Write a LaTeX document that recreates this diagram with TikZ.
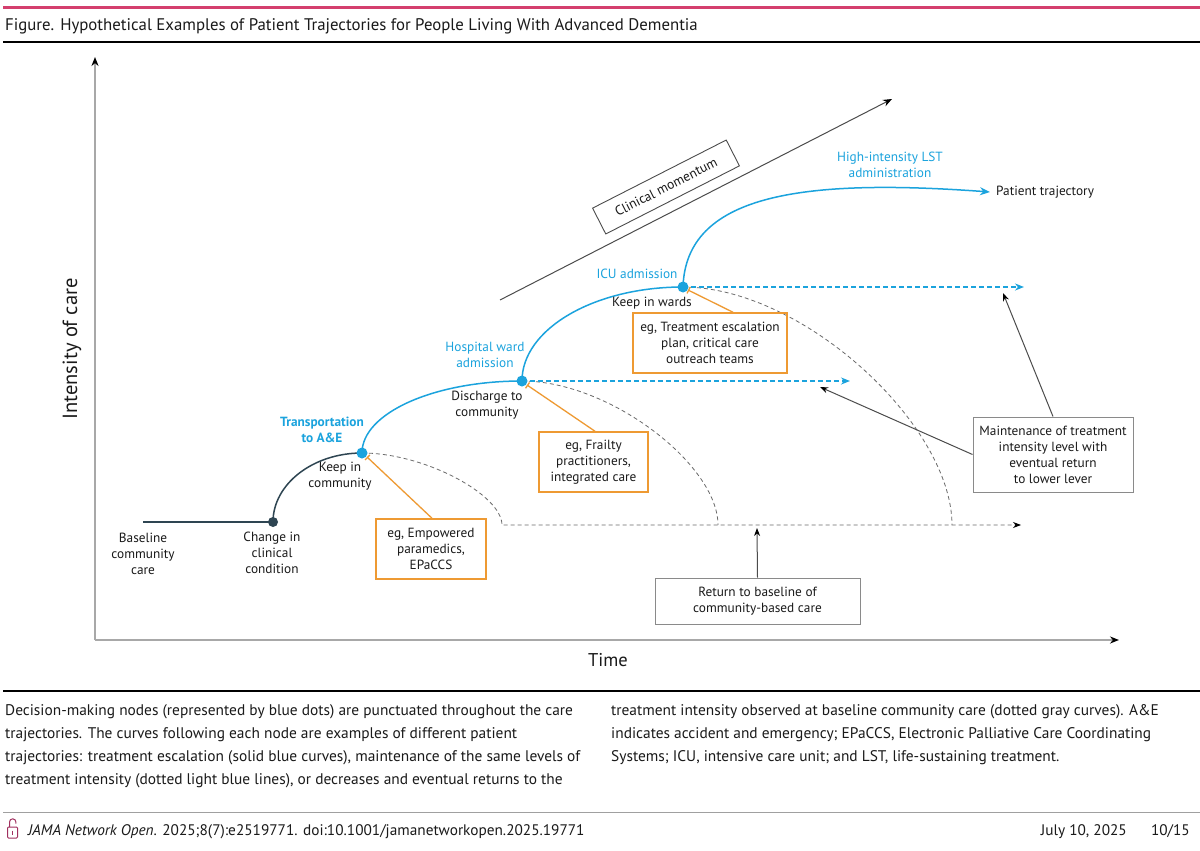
\documentclass[tikz,border=0pt]{standalone}
\usepackage{fontspec}
\setmainfont{PT Sans}
\usetikzlibrary{arrows.meta,calc}
\definecolor{jpink}{HTML}{D43F6E}
\definecolor{jblue}{HTML}{1BA3DD}
\definecolor{jdark}{HTML}{2E4552}
\definecolor{jorange}{HTML}{EE9A33}
\definecolor{gbord}{HTML}{8A8A8A}
\definecolor{gdash}{HTML}{6A6A6A}
\definecolor{txt}{HTML}{1A1A1A}
\definecolor{axisc}{HTML}{A8A8A8}
\definecolor{lockc}{HTML}{A0305F}
\definecolor{footl}{HTML}{A0A0A0}
\begin{document}
\begin{tikzpicture}[x=1pt,y=-1pt,
  lbl/.style={font=\fontsize{13.3}{16}\selectfont, text=txt, align=center, inner sep=0pt},
  blbl/.style={lbl, text=jblue},
  obox/.style={draw=jorange, line width=1.5pt, align=center, inner sep=0pt,
     font=\fontsize{13.3}{16}\selectfont, text=txt},
  gbox/.style={draw=gbord, line width=1pt, align=center, inner sep=0pt,
     font=\fontsize{13.3}{16}\selectfont, text=txt},
  bluecurve/.style={draw=jblue, line width=1.5pt},
  bluedash/.style={draw=jblue, line width=1.6pt, dash pattern=on 5pt off 3pt,
     -{Stealth[length=9pt,width=7pt,color=jblue]}},
  graydash/.style={draw=gdash, line width=0.8pt, dash pattern=on 4pt off 3pt},
  ptr/.style={draw=black!70, line width=1pt, -{Stealth[length=8pt,width=6pt,color=black]}},
  otick/.style={draw=jorange, line width=1.3pt, -{Bar[width=7pt,color=jorange]}},
  bdot/.style={circle, fill=jblue, inner sep=0pt, minimum size=11pt},
  ddot/.style={circle, fill=jdark, inner sep=0pt, minimum size=10pt},
  captxt/.style={font=\fontsize{15.4}{18}\selectfont, text=txt, anchor=base west, inner sep=0pt},
  foottxt/.style={font=\fontsize{15.3}{18}\selectfont, text=txt, inner sep=0pt}
]
\useasboundingbox (0,0) rectangle (1200,851);
\fill[white] (0,0) rectangle (1200,851);

% header
\draw[jpink, line width=3pt] (3,8) -- (1200,8);
\node[anchor=base west, inner sep=0pt, font=\fontsize{16.8}{18}\selectfont, text=txt] (title) at (5,31)
  {Figure. Hypothetical Examples of Patient Trajectories for People Living With Advanced Dementia};
\draw[black, line width=1.6pt] (3,42) -- (1200,42);

% axes
\coordinate (O) at (95,640);
\coordinate (ytop) at (95,57);
\coordinate (xend) at (1119,640);
\draw[axisc, line width=1.5pt, -{Stealth[length=9pt,width=7pt,color=black]}] (O) -- (ytop);
\draw[axisc, line width=1.5pt, -{Stealth[length=9pt,width=7pt,color=black]}] (O) -- (xend);
\node[font=\fontsize{20.5}{22}\selectfont, text=txt, rotate=90] (ylab) at (72,349) {Intensity of care};
\node[font=\fontsize{18.5}{20}\selectfont, text=txt] (xlab) at (608,660) {Time};

% key points
\coordinate (B0) at (143,522);
\coordinate (C1) at (273,522);
\coordinate (D1) at (362,453);
\coordinate (D2) at (522,381);
\coordinate (D3) at (683,287);
\coordinate (R0) at (502,525);
\coordinate (R2) at (718,525);
\coordinate (R3) at (952,525);
\coordinate (Rend) at (1021,525);
\coordinate (PT) at (990,192);
\coordinate (M2) at (850,381);
\coordinate (M3) at (1024,287);

% gray dashed returns
\draw[graydash, -{Stealth[length=8pt,width=6pt,color=black]}] (D1) .. controls ($(D1)+(63,0)$) and ($(R0)+(0,-30)$) .. (R0) -- (Rend);
\draw[graydash] (D2) .. controls ($(D2)+(88,0)$) and ($(R2)+(0,-60)$) .. (R2);
\draw[graydash] (D3) .. controls ($(D3)+(120,0)$) and ($(R3)+(0,-100)$) .. (R3);

% blue dashed maintenance
\draw[bluedash] (D2) -- (M2);
\draw[bluedash] (D3) -- (M3);

% solid curves
\draw[jdark, line width=1.5pt] (B0) -- (C1);
\draw[jdark, line width=1.5pt] (C1) .. controls ($(C1)+(0,-38)$) and ($(D1)+(-49,0)$) .. (D1);
\draw[bluecurve] (D1) .. controls ($(D1)+(0,-40)$) and ($(D2)+(-88,0)$) .. (D2);
\draw[bluecurve] (D2) .. controls ($(D2)+(0,-52)$) and ($(D3)+(-89,0)$) .. (D3);
\draw[bluecurve, -{Stealth[length=10pt,width=8pt,color=jblue]}] (D3) .. controls (686,195) and (800,178) .. (PT);

% dots
\node[ddot] (c1dot) at (C1) {};
\node[bdot] (d1dot) at (D1) {};
\node[bdot] (d2dot) at (D2) {};
\node[bdot] (d3dot) at (D3) {};

% clinical momentum
\coordinate (cm0) at (500,300);
\coordinate (cm1) at (892,99);
\draw[draw=black!70, line width=1pt, -{Stealth[length=9pt,width=7pt,color=black]}] (cm0) -- (cm1);
\node[draw=black!70, line width=0.9pt, rotate=27, minimum width=150pt, minimum height=29pt,
  inner sep=0pt, font=\fontsize{13.5}{16}\selectfont, text=txt] (cmbox) at (666,187) {Clinical momentum};

% labels
\node[lbl] (lbase) at (143,554) {Baseline\\community\\care};
\node[lbl] (lchange) at (272,553) {Change in\\clinical\\condition};
\node[lbl] (lkeepc) at (340,476) {Keep in\\community};
\node[blbl, font=\fontsize{13.3}{16}\selectfont\bfseries] (ltrans) at (322,430) {Transportation\\to A\&E};
\node[lbl] (ldis) at (487,405) {Discharge to\\community};
\node[blbl] (lhosp) at (485,355) {Hospital ward\\admission};
\node[lbl] (lkeepw) at (652,303) {Keep in wards};
\node[blbl] (licu) at (637,274) {ICU admission};
\node[blbl] (lhigh) at (890,165) {High-intensity LST\\administration};
\node[lbl, anchor=west] (lpat) at (996,192) {Patient trajectory};

% orange boxes
\node[obox, minimum width=110pt, minimum height=60pt] (ob1) at (431,549) {eg, Empowered\\paramedics,\\EPaCCS};
\node[obox, minimum width=109pt, minimum height=60pt] (ob2) at (593.5,462) {eg, Frailty\\practitioners,\\integrated care};
\node[obox, minimum width=154pt, minimum height=60pt] (ob3) at (710,343) {eg, Treatment escalation\\plan, critical care\\outreach teams};
\coordinate (t1) at (367,457);
\coordinate (t2) at (527,385);
\coordinate (t3) at (688,290);
\draw[otick] ([xshift=1pt]ob1.north) -- (t1);
\draw[otick] ([xshift=1.5pt]ob2.north) -- (t2);
\draw[otick] ([xshift=23pt]ob3.north) -- (t3);

% gray boxes
\node[gbox, minimum width=160pt, minimum height=75pt] (gb1) at (1053,454.5)
  {Maintenance of treatment\\intensity level with\\eventual return\\to lower lever};
\node[gbox, minimum width=205pt, minimum height=46pt] (gb2) at (757.5,601)
  {Return to baseline of\\community-based care};
\coordinate (a1) at (1003,293);
\coordinate (a2) at (820,387);
\coordinate (a3) at (757,528);
\draw[ptr] (gb1.north) -- (a1);
\draw[ptr] (gb1.west) -- (a2);
\draw[ptr] (gb2.north) -- (a3);

% caption
\draw[black, line width=1.6pt] (3,691) -- (1200,691);
\node[captxt] (cl1) at (5,715) {Decision-making nodes (represented by blue dots) are punctuated throughout the care};
\node[captxt] (cl2) at (5,738) {trajectories. The curves following each node are examples of different patient};
\node[captxt] (cl3) at (5,761) {trajectories: treatment escalation (solid blue curves), maintenance of the same levels of};
\node[captxt] (cl4) at (5,784) {treatment intensity (dotted light blue lines), or decreases and eventual returns to the};
\node[captxt] (cr1) at (611,715) {treatment intensity observed at baseline community care (dotted gray curves). A\&E};
\node[captxt] (cr2) at (611,738) {indicates accident and emergency; EPaCCS, Electronic Palliative Care Coordinating};
\node[captxt] (cr3) at (611,761) {Systems; ICU, intensive care unit; and LST, life-sustaining treatment.};

% footer
\draw[footl, line width=1pt] (3,812) -- (1200,812);
\draw[lockc, line width=1pt, rounded corners=1pt] (7.5,827) rectangle (17.5,838);
\draw[lockc, line width=1pt] (9.5,827) -- (9.5,822) arc (180:360:3.2) -- (15.9,823.5);
\draw[lockc, line width=1pt] (12.5,830.5) -- (12.5,834.5);
\node[foottxt, anchor=base west] (foot) at (28,835)
  {\textit{JAMA Network Open}. 2025;8(7):e2519771. doi:10.1001/jamanetworkopen.2025.19771};
\node[foottxt, anchor=base east] (fdate) at (1127,835) {July 10, 2025};
\node[foottxt, anchor=base east] (fpage) at (1190,835) {10/15};
\end{tikzpicture}
\end{document}
